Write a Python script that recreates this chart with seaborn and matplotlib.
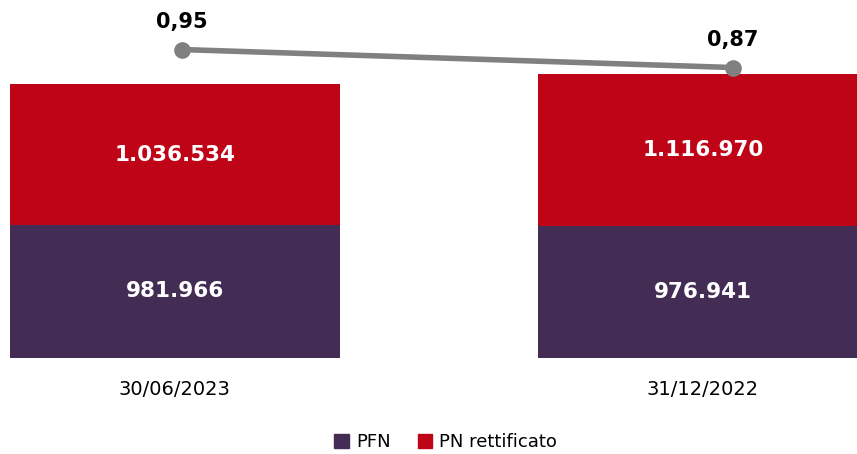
import matplotlib
matplotlib.use('Agg')
import matplotlib.pyplot as plt
from matplotlib.patches import Patch
import pandas as pd
import seaborn as sns

# data
dates = ['30/06/2023', '31/12/2022']
pfn = [981966, 976941]
pn_rett = [1036534, 1116970]
ratio = [0.95, 0.87]

col_pfn = '#432D55'
col_pn = '#C00418'
col_line = '#808080'

def fmt_it(v):
    return f"{v:,}".replace(",", ".")

df = pd.DataFrame({'date': dates, 'pfn': pfn, 'pn': pn_rett})
df['tot'] = df['pfn'] + df['pn']

sns.set_style('white')
plt.rcParams['font.family'] = ['DejaVu Sans']

fig = plt.figure(figsize=(8.57, 4.54), dpi=100)
ax = fig.add_axes([0, 0.2115, 1, 0.7885])

# stacked bars: total in red, PFN drawn over it
sns.barplot(data=df, x='date', y='tot', color=col_pn, width=0.625,
            saturation=1, linewidth=0, ax=ax)
sns.barplot(data=df, x='date', y='pfn', color=col_pfn, width=0.625,
            saturation=1, linewidth=0, ax=ax)

for i, row in df.iterrows():
    ax.text(i, row['pfn'] / 2, fmt_it(row['pfn']), ha='center', va='center',
            color='white', fontweight='bold', fontsize=15.5)
    ax.text(i, row['pfn'] + row['pn'] / 2, fmt_it(row['pn']), ha='center',
            va='center', color='white', fontweight='bold', fontsize=15.5)

ax.set_xlim(-0.331, 1.292)
ax.set_ylim(0, 2.64e6)
ax.set_yticks([])
ax.set_xlabel('')
ax.set_ylabel('')
ax.tick_params(axis='x', length=0, pad=16, labelsize=14, labelcolor='black')
sns.despine(ax=ax, left=True, bottom=True)

# ratio line on its own transparent axes
ax2 = fig.add_axes([0, 0.2115, 1, 0.7885])
ax2.patch.set_alpha(0)
sns.lineplot(x=list(range(len(dates))), y=ratio, color=col_line, linewidth=4,
             marker='o', markersize=12, markeredgewidth=0, ax=ax2)
for i, r in enumerate(ratio):
    ax2.annotate(f"{r:.2f}".replace('.', ','), (i, r), xytext=(0, 20),
                 textcoords='offset points', ha='center', va='center',
                 fontweight='bold', fontsize=15, color='black')
ax2.set_xlim(-0.330, 1.225)
ax2.set_ylim(-0.42, 1.17)
ax2.axis('off')

handles = [Patch(color=col_pfn, label='PFN'), Patch(color=col_pn, label='PN rettificato')]
fig.legend(handles=handles, loc='lower center', bbox_to_anchor=(0.52, -0.03),
           ncol=2, frameon=False, fontsize=13, labelcolor='black',
           handlelength=0.8, handleheight=0.8, handletextpad=0.4,
           columnspacing=1.5)

fig.savefig('out.png', dpi=100)
